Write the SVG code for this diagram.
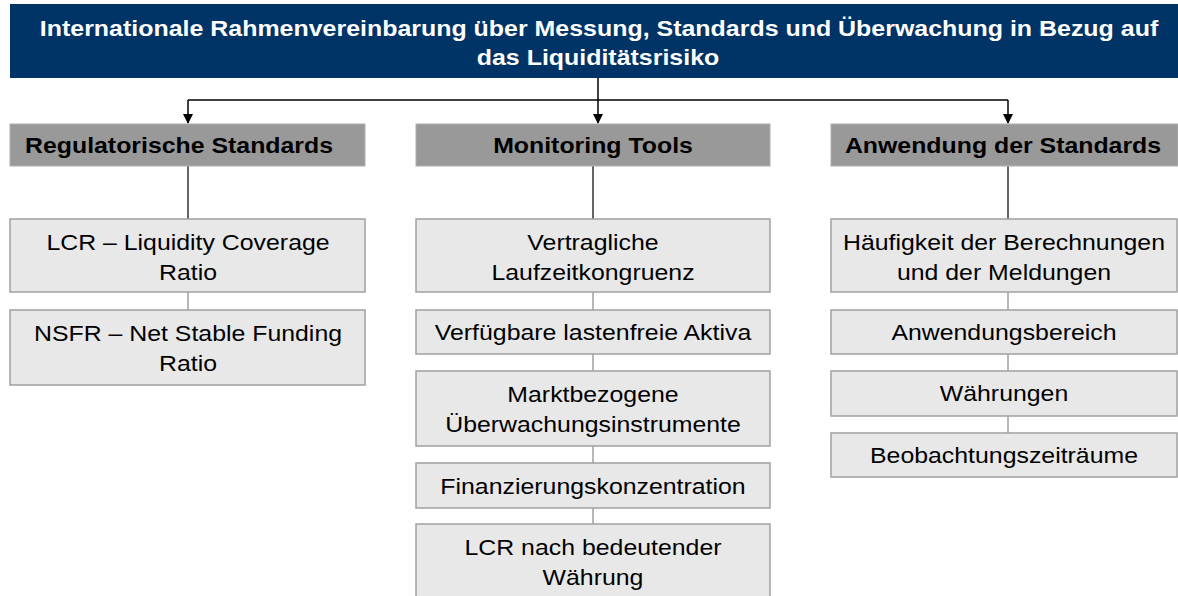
<svg xmlns="http://www.w3.org/2000/svg" width="1178" height="596" viewBox="0 0 1178 596">
<defs>
<style>
.title{fill:#003366}
.ttext{font-family:"Liberation Sans",Arial,sans-serif;font-weight:bold;font-size:23px;fill:#ffffff;text-anchor:middle}
.hdr{fill:#999999;stroke:#b0b0b0;stroke-width:1}
.htext{font-family:"Liberation Sans",Arial,sans-serif;font-weight:bold;font-size:22px;fill:#000000;text-anchor:middle}
.box{fill:#e8e8e8;stroke:#a0a0a0;stroke-width:1.5}
.btext{font-family:"Liberation Sans",Arial,sans-serif;font-size:22px;fill:#000000;text-anchor:middle}
.arrow{fill:none;stroke:#000000;stroke-width:1.5}
.dark{fill:none;stroke:#333333;stroke-width:1.5}
.light{fill:none;stroke:#a0a0a0;stroke-width:1.5}
</style>
<marker id="ah" markerWidth="10" markerHeight="10" refX="9" refY="5" orient="auto" markerUnits="userSpaceOnUse">
<path d="M0,0 L10,5 L0,10 Z" fill="#000000"/>
</marker>
</defs>
<rect width="1178" height="596" fill="#ffffff"/>
<g id="connectors">
<path class="arrow" d="M598,78 V123" marker-end="url(#ah)"/>
<path class="arrow" d="M188,100 H1008"/>
<path class="arrow" d="M188,100 V123" marker-end="url(#ah)"/>
<path class="arrow" d="M1008,100 V123" marker-end="url(#ah)"/>
<path class="dark" d="M188,166 V219"/>
<path class="dark" d="M593,166 V219"/>
<path class="dark" d="M1008,166 V219"/>
<path class="light" d="M188,292 V310"/>
<path class="light" d="M593,292 V310 M593,354 V371 M593,446 V463 M593,508 V524"/>
<path class="light" d="M1008,292 V310 M1008,354 V371 M1008,416 V433"/>
</g>
<g id="title">
<rect class="title" x="10" y="4" width="1168" height="74"/>
<text class="ttext" transform="translate(599,36) scale(1.085,1)">Internationale Rahmenvereinbarung über Messung, Standards und Überwachung in Bezug auf</text>
<text class="ttext" transform="translate(598,65) scale(1.085,1)">das Liquiditätsrisiko</text>
</g>
<g id="h-reg">
<rect class="hdr" x="10" y="124" width="355" height="42"/>
<text class="htext" transform="translate(179,153) scale(1.13,1)">Regulatorische Standards</text>
</g>
<g id="h-mon">
<rect class="hdr" x="416" y="124" width="354" height="42"/>
<text class="htext" transform="translate(593,153) scale(1.13,1)">Monitoring Tools</text>
</g>
<g id="h-anw">
<rect class="hdr" x="831" y="124" width="347" height="42"/>
<text class="htext" transform="translate(1003,153) scale(1.13,1)">Anwendung der Standards</text>
</g>
<g id="lcr">
<rect class="box" x="10" y="219" width="355" height="73"/>
<text class="btext" transform="translate(188,250) scale(1.13,1)">LCR – Liquidity Coverage</text>
<text class="btext" transform="translate(188,280) scale(1.13,1)">Ratio</text>
</g>
<g id="nsfr">
<rect class="box" x="10" y="310" width="355" height="75"/>
<text class="btext" transform="translate(188,341) scale(1.13,1)">NSFR – Net Stable Funding</text>
<text class="btext" transform="translate(188,371) scale(1.13,1)">Ratio</text>
</g>
<g id="vertr">
<rect class="box" x="416" y="219" width="354" height="73"/>
<text class="btext" transform="translate(593,250) scale(1.13,1)">Vertragliche</text>
<text class="btext" transform="translate(593,280) scale(1.13,1)">Laufzeitkongruenz</text>
</g>
<g id="verf">
<rect class="box" x="416" y="310" width="354" height="44"/>
<text class="btext" transform="translate(593,340) scale(1.13,1)">Verfügbare lastenfreie Aktiva</text>
</g>
<g id="markt">
<rect class="box" x="416" y="371" width="354" height="75"/>
<text class="btext" transform="translate(593,402) scale(1.13,1)">Marktbezogene</text>
<text class="btext" transform="translate(593,432) scale(1.13,1)">Überwachungsinstrumente</text>
</g>
<g id="finanz">
<rect class="box" x="416" y="463" width="354" height="45"/>
<text class="btext" transform="translate(593,494) scale(1.13,1)">Finanzierungskonzentration</text>
</g>
<g id="lcrw">
<rect class="box" x="416" y="524" width="354" height="80"/>
<text class="btext" transform="translate(593,555) scale(1.13,1)">LCR nach bedeutender</text>
<text class="btext" transform="translate(593,585) scale(1.13,1)">Währung</text>
</g>
<g id="haeuf">
<rect class="box" x="831" y="219" width="346" height="73"/>
<text class="btext" transform="translate(1004,250) scale(1.13,1)">Häufigkeit der Berechnungen</text>
<text class="btext" transform="translate(1004,280) scale(1.13,1)">und der Meldungen</text>
</g>
<g id="anwb">
<rect class="box" x="831" y="310" width="346" height="44"/>
<text class="btext" transform="translate(1004,340) scale(1.13,1)">Anwendungsbereich</text>
</g>
<g id="waehr">
<rect class="box" x="831" y="371" width="346" height="45"/>
<text class="btext" transform="translate(1004,401) scale(1.13,1)">Währungen</text>
</g>
<g id="beob">
<rect class="box" x="831" y="433" width="346" height="44"/>
<text class="btext" transform="translate(1004,463) scale(1.13,1)">Beobachtungszeiträume</text>
</g>
</svg>
